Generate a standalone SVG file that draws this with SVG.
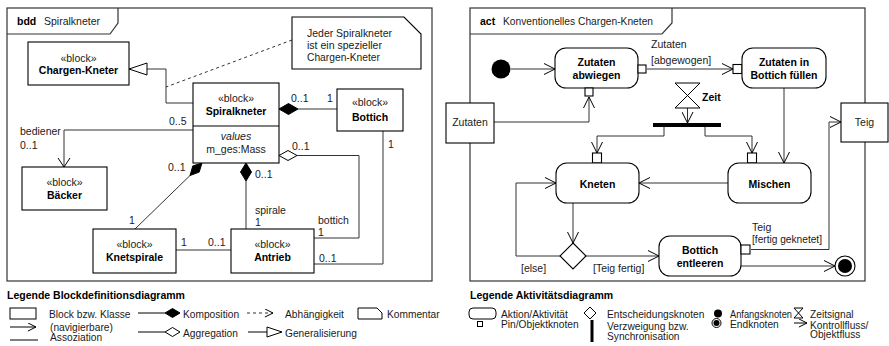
<svg xmlns="http://www.w3.org/2000/svg" width="889" height="346" viewBox="0 0 889 346">
  <style>
    .t{font-family:"Liberation Sans",Arial,Helvetica,sans-serif;font-size:10.5px;fill:#1a1a1a}
    .lg{font-family:"Liberation Sans",Arial,Helvetica,sans-serif;font-size:10.2px;fill:#1a1a1a}
    .b{font-weight:bold;fill:#000}
    .i{font-style:italic}
    .c{text-anchor:middle}
    .box{fill:#fff;stroke:#000;stroke-width:1.1}
    .ln{fill:none;stroke:#333;stroke-width:1}
    .dash{fill:none;stroke:#333;stroke-width:1;stroke-dasharray:3 3}
    .frame{fill:none;stroke:#333;stroke-width:1.2}
    .fill{fill:#000;stroke:#000;stroke-width:1}
    .hollow{fill:#fff;stroke:#000;stroke-width:1}
    .arr{marker-end:url(#open)}
  </style>
  <defs>
    <marker id="open" viewBox="0 0 12 12" refX="11.5" refY="6" markerWidth="12" markerHeight="12" markerUnits="userSpaceOnUse" orient="auto">
      <path d="M0.5,0.5 L11.5,6 L0.5,11.5" fill="none" stroke="#000" stroke-width="1"/>
    </marker>
    <marker id="openS" viewBox="0 0 10 10" refX="9.5" refY="5" markerWidth="9" markerHeight="9" markerUnits="userSpaceOnUse" orient="auto">
      <path d="M0.5,0.5 L9.5,5 L0.5,9.5" fill="none" stroke="#000" stroke-width="1.1"/>
    </marker>
  </defs>

  <rect width="889" height="346" fill="#fff"/>

  <!-- ===== bdd frame ===== -->
  <g id="bdd-frame">
    <rect class="frame" x="7" y="8" width="425" height="273"/>
    <path class="frame" d="M7,34 H110 L118,23 V8"/>
    <text class="t b" x="17" y="25">bdd</text>
    <text class="t" x="44" y="25">Spiralkneter</text>
  </g>

  <!-- bdd connectors -->
  <g id="bdd-connectors">
    <!-- generalization Spiralkneter -> Chargen-Kneter -->
    <path class="ln" d="M193,103 H166 V69 H147"/>
    <polygon class="hollow" points="129,69 147,63 147,75"/>
    <!-- comment anchor -->
    <path class="dash" d="M292,40 L166,87"/>
    <!-- composition Spiralkneter <>- Bottich -->
    <path class="ln" d="M298,109 H337"/>
    <polygon class="fill" points="279,109 288.5,103.5 298,109 288.5,114.5"/>
    <!-- association Spiralkneter -> Baecker -->
    <path class="ln" d="M193,130 H64 V166.5"/>
    <path d="M58,158 L64,167 L70,158" fill="none" stroke="#000" stroke-width="1"/>
    <!-- composition Spiralkneter <>- Knetspirale -->
    <path class="ln" d="M190,175.5 L135,229"/>
    <polygon class="fill" points="202,163 199.2,172.1 190,175.5 192.8,165.9"/>
    <!-- composition Spiralkneter <>- Antrieb (spirale) -->
    <path class="ln" d="M246,181 V229"/>
    <polygon class="fill" points="246,163 251.5,172 246,181 240.5,172"/>
    <!-- aggregation Spiralkneter <>- Antrieb (bottich) -->
    <path class="ln" d="M297,155.5 H359 V238 H314"/>
    <polygon class="hollow" points="279,155.5 288,150.5 297,155.5 288,160.5"/>
    <!-- Bottich - Antrieb -->
    <path class="ln" d="M383,131 V264 H314"/>
    <!-- Knetspirale - Antrieb -->
    <path class="ln" d="M176,250 H231"/>

    <!-- multiplicities and role names -->
    <text class="t" x="169" y="125">0..5</text>
    <text class="t" x="20" y="135">bediener</text>
    <text class="t" x="20" y="149">0..1</text>
    <text class="t" x="291" y="102">0..1</text>
    <text class="t" x="327" y="102">1</text>
    <text class="t" x="168" y="171">0..1</text>
    <text class="t" x="129" y="224">1</text>
    <text class="t" x="255" y="178">0..1</text>
    <text class="t" x="255" y="214">spirale</text>
    <text class="t" x="255" y="226">1</text>
    <text class="t" x="292" y="150">0..1</text>
    <text class="t" x="318" y="224">bottich</text>
    <text class="t" x="318" y="236">1</text>
    <text class="t" x="388" y="148">1</text>
    <text class="t" x="319" y="262">0..1</text>
    <text class="t" x="181" y="246">1</text>
    <text class="t" x="208" y="246">0..1</text>
  </g>

  <!-- bdd blocks -->
  <g id="chargen-kneter">
    <rect class="box" x="28" y="42" width="101" height="43"/>
    <text class="t c" x="78.5" y="62">«block»</text>
    <text class="t b c" x="78.5" y="74">Chargen-Kneter</text>
  </g>
  <g id="spiralkneter">
    <rect class="box" x="193" y="83" width="86" height="80"/>
    <line class="box" x1="193" y1="126" x2="279" y2="126"/>
    <text class="t c" x="236" y="102">«block»</text>
    <text class="t b c" x="236" y="115">Spiralkneter</text>
    <text class="t i c" x="236" y="140">values</text>
    <text class="t c" x="236" y="152.5">m_ges:Mass</text>
  </g>
  <g id="bottich">
    <rect class="box" x="337" y="89" width="66" height="42"/>
    <text class="t c" x="370" y="106">«block»</text>
    <text class="t b c" x="370" y="121">Bottich</text>
  </g>
  <g id="baecker">
    <rect class="box" x="22" y="167" width="85" height="43"/>
    <text class="t c" x="64.5" y="186">«block»</text>
    <text class="t b c" x="64.5" y="199">Bäcker</text>
  </g>
  <g id="knetspirale">
    <rect class="box" x="93" y="229" width="83" height="44"/>
    <text class="t c" x="134.5" y="248">«block»</text>
    <text class="t b c" x="134.5" y="260.5">Knetspirale</text>
  </g>
  <g id="antrieb">
    <rect class="box" x="231" y="229" width="83" height="44"/>
    <text class="t c" x="272.5" y="248">«block»</text>
    <text class="t b c" x="272.5" y="261">Antrieb</text>
  </g>
  <g id="kommentar">
    <path class="box" d="M292,17 H404 L421,34 V69 H292 Z"/>
    <text class="t" x="307" y="37" textLength="85" lengthAdjust="spacingAndGlyphs">Jeder Spiralkneter</text>
    <text class="t" x="307" y="49" textLength="75" lengthAdjust="spacingAndGlyphs">ist ein spezieller</text>
    <text class="t" x="307" y="61" textLength="73" lengthAdjust="spacingAndGlyphs">Chargen-Kneter</text>
  </g>

  <!-- ===== act frame ===== -->
  <g id="act-frame">
    <rect class="frame" x="470" y="8" width="395" height="273"/>
    <path class="frame" d="M470,34 H662 L672,23 V8"/>
    <text class="t b" x="480" y="25">act</text>
    <text class="t" x="503" y="25" textLength="150" lengthAdjust="spacingAndGlyphs">Konventionelles Chargen-Kneten</text>
  </g>

  <!-- activity flows -->
  <g id="act-connectors">
    <path class="ln arr" d="M511,69 H555"/>
    <path class="ln arr" d="M494,122 H589 V97"/>
    <path class="ln arr" d="M647,69 H733"/>
    <path class="ln arr" d="M784,88 V163"/>
    <path class="ln arr" d="M687.5,108 V123"/>
    <path class="ln arr" d="M664,127 V136 H597 V153"/>
    <path class="ln arr" d="M705,127 V136 H752 V153"/>
    <path class="ln arr" d="M728,183 H639"/>
    <path class="ln arr" d="M573,203 V243"/>
    <path class="ln arr" d="M560,256 H516 V183 H556"/>
    <path class="ln arr" d="M586,256 H659"/>
    <path class="ln arr" d="M751,249.5 H829 V122 H841"/>
    <path class="ln arr" d="M741,266 H835"/>
    <text class="t" x="651" y="48">Zutaten</text>
    <text class="t" x="651" y="64">[abgewogen]</text>
    <text class="t" x="521" y="272">[else]</text>
    <text class="t" x="593" y="272">[Teig fertig]</text>
    <text class="t" x="752" y="231">Teig</text>
    <text class="t" x="752" y="243" textLength="70" lengthAdjust="spacingAndGlyphs">[fertig geknetet]</text>
  </g>

  <!-- activity nodes -->
  <g id="start">
    <circle cx="501" cy="69" r="9.5" fill="#000"/>
  </g>
  <g id="zutaten-abwiegen">
    <rect class="box" x="555" y="48" width="83" height="40" rx="11"/>
    <rect class="box" x="638" y="65" width="8" height="8"/>
    <rect class="box" x="585" y="88" width="8" height="8"/>
    <text class="t b c" x="596.5" y="66">Zutaten</text>
    <text class="t b c" x="596.5" y="79">abwiegen</text>
  </g>
  <g id="zutaten-objekt">
    <rect class="box" x="446" y="103" width="48" height="40"/>
    <text class="t c" x="470" y="126">Zutaten</text>
  </g>
  <g id="zutaten-in-bottich">
    <rect class="box" x="733" y="64.5" width="9" height="9"/>
    <rect class="box" x="742" y="48" width="84" height="40" rx="11"/>
    <text class="t b c" x="784" y="66">Zutaten in</text>
    <text class="t b c" x="784" y="79">Bottich füllen</text>
  </g>
  <g id="zeit">
    <path d="M675,83 H700 L675,108 H700 Z" fill="#fff" stroke="#000" stroke-width="1"/>
    <text class="t b" x="702" y="101">Zeit</text>
  </g>
  <g id="gabelung">
    <rect x="653" y="123" width="68" height="4" fill="#000"/>
  </g>
  <g id="kneten">
    <rect class="box" x="592.5" y="153" width="9" height="10"/>
    <rect class="box" x="556" y="163" width="83" height="40" rx="11"/>
    <text class="t b c" x="597.5" y="188">Kneten</text>
  </g>
  <g id="mischen">
    <rect class="box" x="747.5" y="153" width="9" height="10"/>
    <rect class="box" x="728" y="163" width="83" height="40" rx="11"/>
    <text class="t b c" x="769.5" y="188">Mischen</text>
  </g>
  <g id="entscheidung">
    <polygon class="box" points="573,243 586,256 573,269 560,256"/>
  </g>
  <g id="bottich-entleeren">
    <rect class="box" x="659" y="236" width="82" height="40" rx="11"/>
    <rect class="box" x="741" y="245" width="9" height="9"/>
    <text class="t b c" x="700" y="254">Bottich</text>
    <text class="t b c" x="700" y="266.5">entleeren</text>
  </g>
  <g id="teig">
    <rect class="box" x="841" y="103" width="47" height="39"/>
    <text class="t c" x="864.5" y="126">Teig</text>
  </g>
  <g id="ende">
    <circle cx="845" cy="266" r="10" fill="#fff" stroke="#000" stroke-width="1.1"/>
    <circle cx="845" cy="266" r="7" fill="#000"/>
  </g>

  <!-- ===== legend: block definition diagram ===== -->
  <g id="legende-bdd">
    <text class="t b" x="7" y="299">Legende Blockdefinitionsdiagramm</text>
    <rect x="10" y="308" width="26" height="11" fill="#fff" stroke="#000" stroke-width="1"/>
    <text class="lg" x="49" y="317.5">Block bzw. Klasse</text>
    <line x1="10" y1="327" x2="36" y2="327" stroke="#000" stroke-width="1" marker-end="url(#openS)"/>
    <line x1="10" y1="340" x2="38" y2="340" stroke="#000" stroke-width="1"/>
    <text class="lg" x="50" y="331">(navigierbare)</text>
    <text class="lg" x="50" y="340.5">Assoziation</text>
    <line x1="138" y1="313" x2="165" y2="313" stroke="#000" stroke-width="1"/>
    <polygon class="fill" points="165,313 172.5,308.5 180,313 172.5,317.5"/>
    <text class="lg" x="183" y="317.5">Komposition</text>
    <line x1="138" y1="332" x2="165" y2="332" stroke="#000" stroke-width="1"/>
    <polygon class="hollow" points="165,332 172.5,327.5 180,332 172.5,336.5"/>
    <text class="lg" x="183" y="336.5">Aggregation</text>
    <line class="dash" x1="247" y1="313" x2="273" y2="313" marker-end="url(#openS)" stroke="#000"/>
    <text class="lg" x="285" y="317.5">Abhängigkeit</text>
    <line x1="248" y1="332" x2="267" y2="332" stroke="#000" stroke-width="1"/>
    <polygon class="hollow" points="282,332 267,327 267,337"/>
    <text class="lg" x="285" y="336.5">Generalisierung</text>
    <path d="M358,308 H377 L382,313 V319 H358 Z" fill="#fff" stroke="#000" stroke-width="1"/>
    <text class="lg" x="387" y="317.5">Kommentar</text>
  </g>

  <!-- ===== legend: activity diagram ===== -->
  <g id="legende-act">
    <text class="t b" x="470" y="299">Legende Aktivitätsdiagramm</text>
    <rect x="469" y="308" width="27" height="11" rx="4" fill="#fff" stroke="#000" stroke-width="1"/>
    <text class="lg" x="501" y="317.5">Aktion/Aktivität</text>
    <rect x="477.5" y="321.5" width="5" height="5" fill="#fff" stroke="#000" stroke-width="1"/>
    <text class="lg" x="501" y="328">Pin/Objektknoten</text>
    <polygon points="590,307 596,313 590,319 584,313" fill="#fff" stroke="#000" stroke-width="1"/>
    <text class="lg" x="607" y="317.5">Entscheidungsknoten</text>
    <rect x="590.5" y="320" width="3" height="22" fill="#000"/>
    <text class="lg" x="607" y="330">Verzweigung bzw.</text>
    <text class="lg" x="607" y="339.5">Synchronisation</text>
    <circle cx="718" cy="313.5" r="4" fill="#000"/>
    <text class="lg" x="730" y="317.5" textLength="62" lengthAdjust="spacingAndGlyphs">Anfangsknoten</text>
    <circle cx="716.5" cy="323" r="4.5" fill="#fff" stroke="#000" stroke-width="1"/>
    <circle cx="716.5" cy="323" r="3" fill="#000"/>
    <text class="lg" x="730" y="328">Endknoten</text>
    <path d="M794,308 H803 L794,318 H803 Z" fill="#fff" stroke="#000" stroke-width="1"/>
    <text class="lg" x="810" y="317.5">Zeitsignal</text>
    <line x1="794" y1="323" x2="807" y2="323" stroke="#000" stroke-width="1" marker-end="url(#openS)"/>
    <text class="lg" x="810" y="328.5">Kontrollfluss/</text>
    <text class="lg" x="810" y="338">Objektfluss</text>
  </g>
</svg>
